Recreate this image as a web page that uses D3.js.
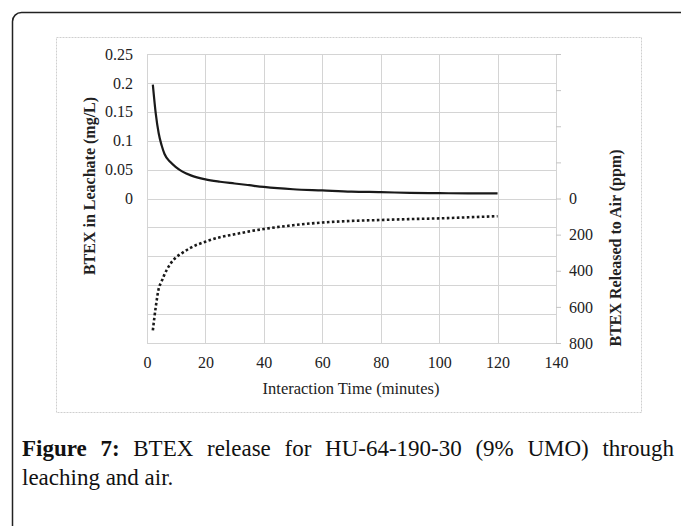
<!DOCTYPE html>
<html>
<head>
<meta charset="utf-8">
<script src="https://cdn.jsdelivr.net/npm/d3@7"></script>
<style>
  body { margin: 0; background: #fff; }
  svg { display: block; font-family: "Liberation Serif", "Times New Roman", serif; }
</style>
</head>
<body>
<svg id="chart" width="681" height="526"></svg>
<script>
// readings (minutes)
const times = [2, 3, 4, 5, 6, 8, 10, 12, 15, 20, 25, 30, 35, 40, 50, 60, 70, 80, 90, 100, 110, 120];
// BTEX in leachate, mg/L (solid line, left axis)
const leachate = [0.197, 0.147, 0.113, 0.092, 0.077, 0.063, 0.054, 0.047, 0.040, 0.033, 0.029, 0.026, 0.023, 0.020, 0.016, 0.014, 0.012, 0.011, 0.0098, 0.0093, 0.0088, 0.0087];
// BTEX released to air, ppm (dotted line, right axis, inverted)
const airRelease = [730, 600, 500, 459, 420, 362, 325, 302, 272, 239, 214, 198, 182, 169, 148, 133, 124, 119, 114, 110, 104, 98];

const xTicks = [0, 20, 40, 60, 80, 100, 120, 140];
const leftTicks = [0, 0.05, 0.1, 0.15, 0.2, 0.25];
const leftGrid = [-0.25, -0.2, -0.15, -0.1, -0.05, 0, 0.05, 0.1, 0.15, 0.2, 0.25];
const rightTicks = [0, 200, 400, 600, 800];
const rightMarks = [-800, -600, -400, -200, 0, 200, 400, 600, 800];

const svg = d3.select("#chart");

// page frame and chart frame
svg.append("rect")
  .attr("x", 12.5).attr("y", 12.5)
  .attr("width", 720).attr("height", 600)
  .attr("rx", 9)
  .attr("fill", "none")
  .attr("stroke", "#222")
  .attr("stroke-width", 1.5);

svg.append("rect")
  .attr("x", 56.5).attr("y", 37.5)
  .attr("width", 585).attr("height", 375)
  .attr("fill", "none")
  .attr("stroke", "#cfcfcf")
  .attr("stroke-dasharray", "2,1");

const plot = {left: 147, right: 556, top: 54, bottom: 343};

const x = d3.scaleLinear().domain([0, 140]).range([plot.left, plot.right]);
const yL = d3.scaleLinear().domain([-0.25, 0.25]).range([plot.bottom, plot.top]);
const yR = d3.scaleLinear().domain([-800, 800]).range([plot.top, plot.bottom]);

const grid = svg.append("g").attr("stroke", "#d4d4d4").attr("stroke-width", 1);

grid.selectAll(".h").data(leftGrid).join("line")
  .attr("x1", plot.left).attr("x2", plot.right)
  .attr("y1", d => Math.round(yL(d)) + 0.5)
  .attr("y2", d => Math.round(yL(d)) + 0.5);

grid.selectAll(".v").data(xTicks).join("line")
  .attr("y1", plot.top).attr("y2", plot.bottom)
  .attr("x1", d => Math.round(x(d)) + 0.5)
  .attr("x2", d => Math.round(x(d)) + 0.5);

// axes
const xAxis = svg.append("g")
  .attr("transform", `translate(0,${plot.bottom})`)
  .call(d3.axisBottom(x).tickValues(xTicks).tickSize(0).tickPadding(14));

const lAxis = svg.append("g")
  .attr("transform", `translate(${plot.left},0)`)
  .call(d3.axisLeft(yL).tickValues(leftTicks).tickSize(0).tickPadding(14)
    .tickFormat(d3.format("~g")));

const rAxis = svg.append("g")
  .attr("transform", `translate(${plot.right},0)`)
  .call(d3.axisRight(yR).tickValues(rightMarks).tickSize(5).tickPadding(8)
    .tickFormat(d => rightTicks.includes(d) ? d : ""));

[xAxis, lAxis, rAxis].forEach(a => {
  a.select(".domain").remove();
  a.selectAll(".tick line").attr("stroke", "#c4c4c4");
  a.selectAll("text")
    .attr("font-family", "Liberation Serif, serif")
    .attr("font-size", 16)
    .attr("fill", "#222");
});

// series
const leachLine = d3.line()
  .x((d, i) => x(times[i]))
  .y(d => yL(d))
  .curve(d3.curveMonotoneX);

const airLine = d3.line()
  .x((d, i) => x(times[i]))
  .y(d => yR(d))
  .curve(d3.curveMonotoneX);

svg.append("path")
  .datum(leachate)
  .attr("d", leachLine)
  .attr("fill", "none")
  .attr("stroke", "#1a1a1a")
  .attr("stroke-width", 2.2);

svg.append("path")
  .datum(airRelease)
  .attr("d", airLine)
  .attr("fill", "none")
  .attr("stroke", "#1a1a1a")
  .attr("stroke-width", 2.6)
  .attr("stroke-dasharray", "2.6,2.4");

// axis titles
svg.append("text")
  .attr("x", 351).attr("y", 394)
  .attr("text-anchor", "middle")
  .attr("font-size", 16.5)
  .attr("fill", "#222")
  .text("Interaction Time (minutes)");

svg.append("text")
  .attr("transform", "translate(89,186) rotate(-90)")
  .attr("text-anchor", "middle")
  .attr("dy", "0.35em")
  .attr("font-size", 16)
  .attr("font-weight", "bold")
  .attr("fill", "#222")
  .text("BTEX in Leachate (mg/L)");

svg.append("text")
  .attr("transform", "translate(615,248) rotate(-90)")
  .attr("text-anchor", "middle")
  .attr("dy", "0.35em")
  .attr("font-size", 16)
  .attr("font-weight", "bold")
  .attr("fill", "#222")
  .text("BTEX Released to Air (ppm)");

// caption, first line justified to the frame width
const capWidth = 652;
const cap1 = svg.append("text")
  .attr("x", 22).attr("y", 456)
  .attr("font-size", 23)
  .attr("fill", "#111");
cap1.append("tspan").attr("font-weight", "bold").text("Figure 7:");
cap1.append("tspan").text(" BTEX release for HU-64-190-30 (9% UMO) through");

const natural = cap1.node().getComputedTextLength();
const gaps = 8;
if (natural < capWidth) {
  cap1.attr("word-spacing", (capWidth - natural) / gaps);
} else {
  cap1.attr("textLength", capWidth).attr("lengthAdjust", "spacingAndGlyphs");
}

svg.append("text")
  .attr("x", 22).attr("y", 485)
  .attr("font-size", 23)
  .attr("fill", "#111")
  .text("leaching and air.");
</script>
</body>
</html>
